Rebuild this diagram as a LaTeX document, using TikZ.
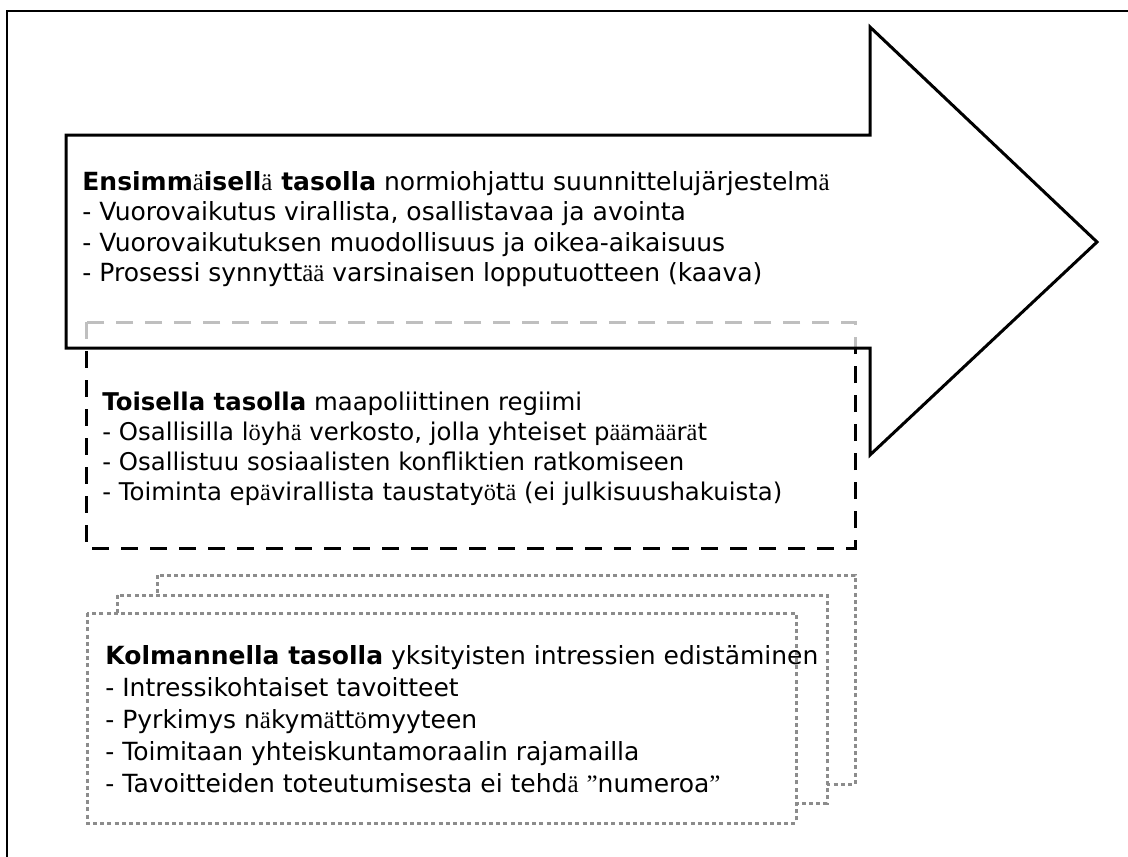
\documentclass[tikz,border=0pt]{standalone}
\usepackage{fontspec}
\setmainfont{DejaVu Sans}
\newfontfamily\glitchfont{Liberation Serif}
\usepackage{tikz}

% letters that the original sets in a serif face
\newcommand{\sera}{{\glitchfont\mdseries ä}}
\newcommand{\sero}{{\glitchfont\mdseries ö}}
\newcommand{\serq}{{\glitchfont\mdseries ”}}

\begin{document}
\begin{tikzpicture}[x=0.5pt, y=-0.5pt,
  lvltext/.style={anchor=north west, align=left, inner sep=0pt},
  dotbox/.style={draw=black!45, fill=white, line width=1.5pt, dash pattern=on 2pt off 1.6pt}]

\useasboundingbox (0,0) rectangle (1128,856);
\clip (0,0) rectangle (1128,856);

% Outer frame (runs off the right and bottom edge)
\draw[line width=1.2pt] (7,11) rectangle (1140,870);

% Second level: dashed box, partly behind the arrow
\draw[line width=1.5pt, dash pattern=on 8.5pt off 6pt] (86,322) rectangle (855,548);

% Big arrow
\draw[line width=1.5pt, fill=white, fill opacity=0.75, line join=miter]
  (66,135) -- (870,135) -- (870,27) -- (1097,242) -- (870,455) -- (870,348) -- (66,348) -- cycle;

% Third level: stacked dotted sheets
\draw[dotbox] (157,575) rectangle (855,784);
\draw[dotbox] (117,595) rectangle (827,803);
\draw[dotbox] (87,613) rectangle (796,823);

% Level texts
\node[lvltext, font=\fontsize{12.5}{15.2}\selectfont] (tasoyksi) at (82,171)
  {\textbf{Ensimm\sera isell\sera\ tasolla} normiohjattu suunnittelujärjestelm\sera\\
   - Vuorovaikutus virallista, osallistavaa ja avointa\\
   - Vuorovaikutuksen muodollisuus ja oikea-aikaisuus\\
   - Prosessi synnytt\sera\sera\ varsinaisen lopputuotteen (kaava)};
\node[lvltext, font=\fontsize{12.2}{15}\selectfont] (tasokaksi) at (102,392)
  {\textbf{Toisella tasolla} maapoliittinen regiimi\\
   - Osallisilla l\sero yh\sera\ verkosto, jolla yhteiset p\sera\sera m\sera\sera r\sera t\\
   - Osallistuu sosiaalisten konfliktien ratkomiseen\\
   - Toiminta ep\sera virallista taustaty\sero t\sera\ (ei julkisuushakuista)};
\node[lvltext, font=\fontsize{12.5}{16}\selectfont] (tasokolme) at (105,645)
  {\textbf{Kolmannella tasolla} yksityisten intressien edistäminen\\
   - Intressikohtaiset tavoitteet\\
   - Pyrkimys n\sera kym\sera tt\sero myyteen\\
   - Toimitaan yhteiskuntamoraalin rajamailla\\
   - Tavoitteiden toteutumisesta ei tehd\sera\ \serq numeroa\serq};

\end{tikzpicture}
\end{document}
